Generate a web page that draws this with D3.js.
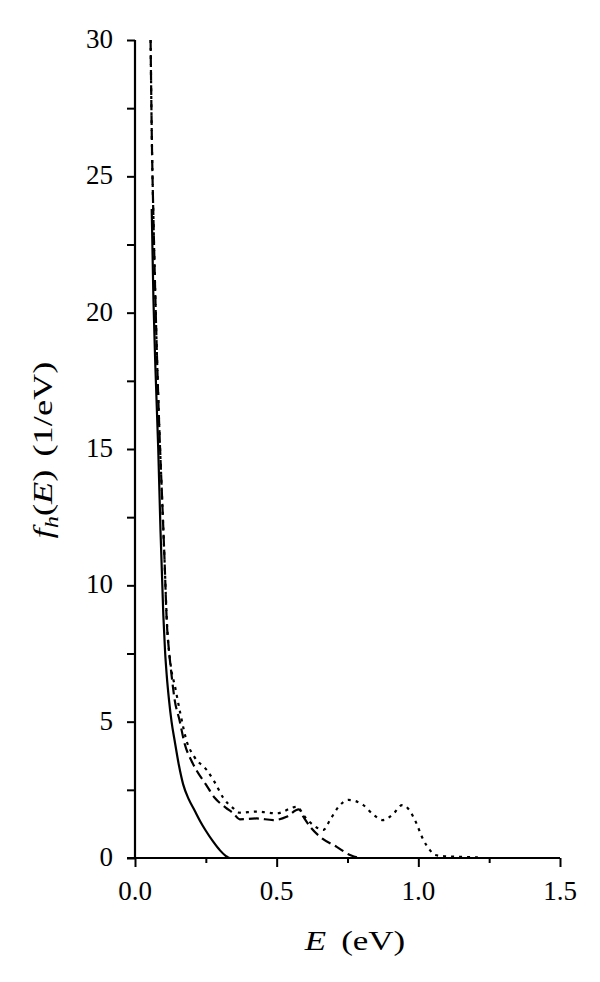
<!DOCTYPE html>
<html><head><meta charset="utf-8">
<script src="https://cdn.jsdelivr.net/npm/d3@7"></script>
<style>body{margin:0;background:#fff}svg{display:block}text{font-family:"Liberation Serif","Times New Roman",serif;fill:#000}</style>
</head><body><div id="chart"></div>
<script>
const xTicks = [0.0, 0.5, 1.0, 1.5];
const yTicks = [0, 5, 10, 15, 20, 25, 30];

const solidE = [0.059,0.065,0.072,0.082,0.09,0.1,0.106,0.112,0.12,0.129,0.14,0.155,0.17,0.19,0.21,0.23,0.25,0.276,0.3,0.32,0.335,0.345];
const solidF = [23.8,20.5,18.0,15.0,12.0,8.9,7.6,6.7,5.8,5.0,4.3,3.4,2.7,2.15,1.75,1.35,1.0,0.6,0.28,0.08,0.0,0.0];

const dashE = [0.055,0.06,0.065,0.074,0.085,0.096,0.104,0.112,0.12,0.127,0.14,0.157,0.175,0.2,0.218,0.25,0.282,0.32,0.347,0.37,0.43,0.488,0.535,0.578,0.595,0.618,0.653,0.712,0.759,0.8,0.85];
const dashF = [30,26,23.5,19.7,16,13.1,11.0,8.7,7.6,6.9,5.8,5.06,4.2,3.55,3.2,2.7,2.2,1.85,1.64,1.42,1.45,1.39,1.51,1.78,1.5,1.15,0.78,0.41,0.11,0.0,0.0];

const dotE = [0.055,0.06,0.065,0.074,0.085,0.096,0.104,0.112,0.127,0.141,0.16,0.182,0.21,0.253,0.28,0.312,0.347,0.37,0.429,0.5,0.571,0.6,0.63,0.665,0.688,0.72,0.753,0.806,0.84,0.875,0.91,0.943,0.965,0.988,1.018,1.04,1.059,1.1,1.15,1.21];
const dotF = [30,26,23.5,19.7,16,13.1,11.0,8.8,7.0,6.3,5.3,4.3,3.7,3.23,2.8,2.2,1.82,1.66,1.70,1.64,1.88,1.5,1.2,1.03,1.39,1.9,2.13,1.94,1.6,1.39,1.6,1.94,1.8,1.39,0.66,0.3,0.11,0.06,0.04,0.02];

const W = 600, H = 982;
const svg = d3.select("#chart").append("svg").attr("width", W).attr("height", H);
const x = d3.scaleLinear().domain([0, 1.5]).range([135, 560]);
const y = d3.scaleLinear().domain([0, 30]).range([858, 40]);

// axes
const xAxis = svg.append("g").attr("transform", `translate(0,${y(0)})`)
  .call(d3.axisBottom(x).tickValues(d3.range(0, 1.51, 0.25)).tickSize(8).tickFormat(""));
xAxis.selectAll(".tick line").attr("y2", d => (Math.abs(d*2 - Math.round(d*2)) < 1e-6) ? 9 : 5).attr("stroke-width", 2);
xAxis.select(".domain").attr("stroke-width", 2.2).attr("d", `M${x(0)-8},0H${x(1.5)}`);
xAxis.selectAll(".tick text").remove();
xTicks.forEach(v => {
  svg.append("text").attr("x", x(v)).attr("y", 900).attr("text-anchor", "middle")
    .attr("font-size", 27).text(d3.format(".1f")(v));
});

const yAxis = svg.append("g").attr("transform", `translate(${x(0)},0)`)
  .call(d3.axisLeft(y).tickValues(d3.range(0, 30.1, 2.5)).tickSize(8).tickFormat(""));
yAxis.selectAll(".tick line").attr("stroke-width", 2).attr("x2", -8);
yAxis.select(".domain").attr("stroke-width", 2.2).attr("d", `M0,${y(0)}V${y(30)}`);
yTicks.forEach(v => {
  svg.append("text").attr("x", 113).attr("y", y(v) + 8).attr("text-anchor", "end")
    .attr("font-size", 27).text(v);
});

// axis titles
const xt = svg.append("text").attr("transform", "translate(355,950) scale(1.25,1)")
  .attr("text-anchor", "middle").attr("font-size", 28);
xt.append("tspan").attr("font-style", "italic").text("E");
xt.append("tspan").attr("dx", 5).text(" (eV)");

const yt = svg.append("text").attr("transform", "translate(52,450) rotate(-90) scale(1.3,1)")
  .attr("text-anchor", "middle").attr("font-size", 28);
yt.append("tspan").attr("font-style", "italic").text("f");
yt.append("tspan").attr("font-style", "italic").attr("font-size", 19).attr("dy", 6).text("h");
yt.append("tspan").attr("dy", -6).text("(");
yt.append("tspan").attr("font-style", "italic").text("E");
yt.append("tspan").text(")");
yt.append("tspan").attr("dx", 3).text(" (1/eV)");

const line = d3.line().x(d => x(d[0])).y(d => y(d[1])).curve(d3.curveMonotoneX);
function draw(E, F, dash) {
  svg.append("path").datum(E.map((e, i) => [e, F[i]]))
    .attr("d", line).attr("fill", "none").attr("stroke", "#000")
    .attr("stroke-width", 2.2).attr("stroke-dasharray", dash);
}
draw(dotE, dotF, "3,5");
draw(dashE, dashF, "10,5");
draw(solidE, solidF, null);
</script></body></html>
